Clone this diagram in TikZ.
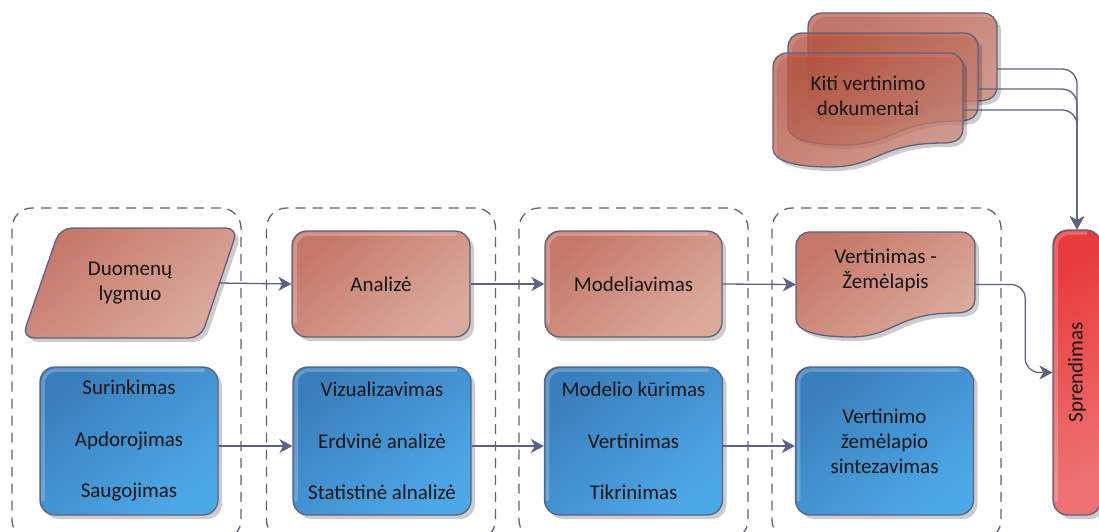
\documentclass[tikz,border=0pt]{standalone}
\usepackage{fontspec}
\setmainfont{Carlito}
\usetikzlibrary{arrows.meta,shadows}

\definecolor{edge}{HTML}{5B6282}
\definecolor{ink}{HTML}{161616}
\definecolor{redA}{HTML}{C67868}
\definecolor{redB}{HTML}{DAAB9D}
\definecolor{blueA}{HTML}{3A7FBB}
\definecolor{blueB}{HTML}{4DA8E8}
\definecolor{sprA}{HTML}{E83C3C}
\definecolor{sprB}{HTML}{EE7272}
\definecolor{docA}{HTML}{BE5A46}
\definecolor{docB}{HTML}{D08A7A}

\tikzset{
  dropshade/.style={drop shadow={shadow xshift=4pt,shadow yshift=-4pt,fill=black,opacity=0.2}},
  outline/.style={draw=edge,line width=1.3pt},
  bevel/.style={path picture={
    \draw[white,opacity=0.22,line width=3.5pt,rounded corners=13pt]
      ([xshift=3pt,yshift=14pt]path picture bounding box.south west)
      -- ([xshift=3pt,yshift=-3pt]path picture bounding box.north west)
      -- ([xshift=-14pt,yshift=-3pt]path picture bounding box.north east);}},
  redfill/.style={top color=redA,bottom color=redB,shading angle=40},
  bluefill/.style={top color=blueA,bottom color=blueB,shading angle=40},
  txt/.style={font=\fontsize{21}{25}\selectfont,text=ink,align=center,inner sep=0pt},
  redbox/.style={rectangle,rounded corners=15pt,outline,redfill,dropshade,bevel,txt},
  bluebox/.style={rectangle,rounded corners=15pt,outline,bluefill,dropshade,bevel,txt,
    font=\fontsize{21}{51.5}\selectfont,minimum width=178pt,minimum height=148pt},
  sprbox/.style={rectangle,rounded corners=15pt,outline,top color=sprA,bottom color=sprB,
    shading angle=30,dropshade,bevel,txt},
  grp/.style={rectangle,rounded corners=20pt,draw=edge,line width=1.3pt,
    dash pattern=on 10pt off 7pt,minimum width=229pt,minimum height=332pt},
  conn/.style={draw=edge,line width=1.3pt,-{Stealth[length=13pt,width=14pt,inset=4pt]}},
  hole/.style={rectangle,minimum width=#1,inner sep=0pt},
  docfill/.style={outline,top color=docA,bottom color=docB,shading angle=40,
    fill opacity=0.75,dropshade},
}

% document shape: top-left (#1,#2), width #3, height #4, style #5
\newcommand\drawdoc[5]{%
  \draw[#5] (#1,#2+#4-18) -- (#1,#2+14)
    .. controls (#1,#2+6) and (#1+6,#2) .. (#1+14,#2)
    -- (#1+#3-14,#2)
    .. controls (#1+#3-6,#2) and (#1+#3,#2+6) .. (#1+#3,#2+14)
    -- (#1+#3,#2+#4-40)
    .. controls (#1+#3,#2+#4-29) and (#1+#3-6,#2+#4-24) .. (#1+#3-20,#2+#4-24)
    .. controls (#1+0.56*#3,#2+#4-24) and (#1+0.55*#3,#2+#4) .. (#1+0.3*#3,#2+#4)
    .. controls (#1+0.12*#3,#2+#4) and (#1,#2+#4-6) .. (#1,#2+#4-18) -- cycle;}

\begin{document}
\begin{tikzpicture}[x=1pt,y=-1pt]
\useasboundingbox (0,0) rectangle (1099,531);
\clip (0,0) rectangle (1099,531);

% stage frames
\node[grp] (g1) at (126.5,374) {};
\node[grp] (g2) at (381,374) {};
\node[grp] (g3) at (633.5,374) {};
\node[grp] (g4) at (886.5,374) {};

% stack of other assessment documents
\drawdoc{808}{13}{189}{112}{docfill}
\drawdoc{788}{33}{190}{112}{docfill}
\drawdoc{773}{53}{190}{114}{docfill}
\node[hole=189pt,minimum height=112pt] (k3) at (902.5,69) {};
\node[hole=190pt,minimum height=112pt] (k2) at (883,89) {};
\node[hole=190pt,minimum height=114pt] (k1) at (868,110) {};
\node[txt] (kt) at (868,96) {Kiti vertinimo\\dokumentai};

% upper row
\draw[outline,redfill,dropshade,rounded corners=12pt]
  (60,228) -- (238,228) -- (201,338) -- (22,338) -- cycle;
\node[txt,minimum width=177pt,minimum height=110pt] (dl) at (130,283) {Duomenų\\lygmuo};
\node[redbox,minimum width=178pt,minimum height=106pt] (an) at (381,284) {Analizė};
\node[redbox,minimum width=177pt,minimum height=106pt] (md) at (633.5,284) {Modeliavimas};
\drawdoc{796}{232}{179}{105}{outline,redfill,dropshade}
\node[hole=179pt,minimum height=105pt] (vz) at (885.5,284.5) {};
\node[txt] (vzt) at (885.5,270.5) {Vertinimas -\\Žemėlapis};

% lower row
\node[bluebox] (su) at (129,441) {Surinkimas\\Apdorojimas\\Saugojimas};
\node[bluebox] (vi) at (382,441) {Vizualizavimas\\Erdvinė analizė\\Statistinė alnalizė};
\node[bluebox] (mk) at (633.5,441) {Modelio kūrimas\\Vertinimas\\Tikrinimas};
\node[bluebox,font=\fontsize{21}{25}\selectfont] (vs) at (884.5,441) {Vertinimo\\žemėlapio\\sintezavimas};

% decision
\node[sprbox,minimum width=48pt,minimum height=285pt] (sp) at (1077,372.5) {\rotatebox{90}{Sprendimas}};

% connectors
\draw[conn] (dl.east) -- (an.west);
\draw[conn] (an.east) -- (md.west);
\draw[conn] (md.east) -- (vz.west);
\draw[conn,rounded corners=14pt] (vz.east) -- ++(50,0) |- (sp.west);
\draw[conn] ([yshift=-5pt]su.east) -- ([yshift=-5pt]vi.west);
\draw[conn] ([yshift=-5pt]vi.east) -- ([yshift=-5pt]mk.west);
\draw[conn] ([yshift=-5pt]mk.east) -- ([yshift=-5pt]vs.west);
\draw[conn,rounded corners=15pt] (k3.east) -| (sp.north);
\draw[conn,rounded corners=15pt] (k2.east) -| (sp.north);
\draw[conn,rounded corners=15pt] (k1.east) -| (sp.north);
\end{tikzpicture}
\end{document}
